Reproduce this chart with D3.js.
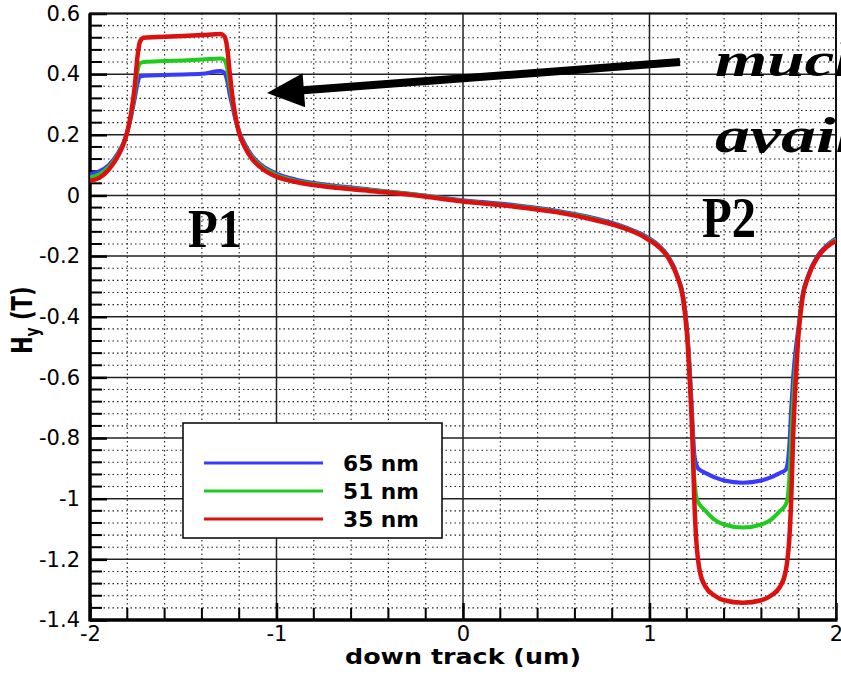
<!DOCTYPE html>
<html lang="en">
<head>
    <meta charset="UTF-8">
    <title>Hy down track</title>
    <script src="https://d3js.org/d3.v7.min.js"></script>
    <style>
        body { margin: 0; background: #fff; }
        svg { display: block; }
    </style>
</head>
<body>
<div id="chart"></div>
<script>
    // down-track positions (um), shared by all three series
    const xs = [-2.0, -1.95, -1.9, -1.85, -1.82, -1.8, -1.78, -1.76, -1.745, -1.73, -1.71, -1.6, -1.5, -1.4, -1.3,
        -1.28, -1.265, -1.25, -1.235, -1.22, -1.2, -1.17, -1.13, -1.08, -1.0, -0.9, -0.75, -0.5, -0.25, 0,
        0.25, 0.5, 0.7, 0.85, 0.95, 1.0, 1.05, 1.1, 1.15, 1.18, 1.2, 1.215, 1.23, 1.24, 1.25, 1.26, 1.27,
        1.3, 1.35, 1.4, 1.5, 1.6, 1.65, 1.7, 1.73, 1.74, 1.75, 1.76, 1.77, 1.785, 1.8, 1.82, 1.85, 1.9, 1.95, 2.0];

    const hy65 = [0.07, 0.08, 0.1, 0.14, 0.175, 0.21, 0.26, 0.32, 0.37, 0.393, 0.395, 0.397, 0.399, 0.401, 0.41,
        0.405, 0.38, 0.33, 0.29, 0.25, 0.21, 0.17, 0.13, 0.1, 0.072, 0.053, 0.037, 0.02, 0.003, -0.016,
        -0.03, -0.05, -0.074, -0.1, -0.125, -0.142, -0.165, -0.2, -0.265, -0.33, -0.43, -0.56, -0.74, -0.85, -0.885, -0.9, -0.905,
        -0.915, -0.93, -0.94, -0.947, -0.94, -0.93, -0.915, -0.905, -0.885, -0.82, -0.7, -0.6, -0.5, -0.43, -0.33, -0.265, -0.2, -0.165, -0.142];

    const hy51 = [0.06, 0.07, 0.093, 0.135, 0.172, 0.21, 0.265, 0.34, 0.41, 0.437, 0.44, 0.443, 0.445, 0.448, 0.452,
        0.447, 0.42, 0.36, 0.305, 0.255, 0.208, 0.165, 0.125, 0.095, 0.067, 0.049, 0.034, 0.018, 0.002, -0.018,
        -0.033, -0.053, -0.077, -0.103, -0.128, -0.145, -0.168, -0.203, -0.268, -0.335, -0.44, -0.58, -0.77, -0.93, -0.99, -1.01, -1.02,
        -1.04, -1.07, -1.085, -1.095, -1.085, -1.07, -1.04, -1.02, -1.0, -0.93, -0.8, -0.68, -0.55, -0.44, -0.335, -0.268, -0.203, -0.168, -0.145];

    const hy35 = [0.048, 0.058, 0.085, 0.13, 0.17, 0.21, 0.27, 0.36, 0.46, 0.51, 0.52, 0.523, 0.526, 0.529, 0.532,
        0.525, 0.49, 0.4, 0.32, 0.26, 0.205, 0.16, 0.12, 0.09, 0.062, 0.045, 0.03, 0.015, 0.0, -0.02,
        -0.035, -0.055, -0.08, -0.105, -0.13, -0.148, -0.17, -0.205, -0.27, -0.34, -0.45, -0.6, -0.8, -1.0, -1.13, -1.2, -1.24,
        -1.29, -1.32, -1.335, -1.343, -1.335, -1.32, -1.29, -1.24, -1.2, -1.13, -1.0, -0.8, -0.6, -0.45, -0.34, -0.27, -0.205, -0.17, -0.15];

    const seriesNames = ["65 nm", "51 nm", "35 nm"];
    const seriesColors = ["#3a3aff", "#1ecc1e", "#dd0f0f"];
    const xTicks = [-2, -1, 0, 1, 2];
    const yTicks = [0.6, 0.4, 0.2, 0, -0.2, -0.4, -0.6, -0.8, -1, -1.2, -1.4];

    const width = 841, height = 678;
    const margin = {top: 13.5, right: 5, bottom: 58, left: 90};

    const svg = d3.select("#chart").append("svg")
        .attr("width", width)
        .attr("height", height)
        .style("font-family", "'DejaVu Sans', sans-serif");

    svg.append("rect").attr("width", width).attr("height", height).attr("fill", "#fff");

    const x = d3.scaleLinear().domain([-2, 2]).range([margin.left, width - margin.right]);
    const y = d3.scaleLinear().domain([-1.4, 0.6]).range([height - margin.bottom, margin.top]);

    const x0 = x.range()[0], x1 = x.range()[1];
    const y0 = y.range()[1], y1 = y.range()[0];

    // minor grid (dotted)
    const xMinor = d3.range(-20, 21, 2).map(d => d / 10).filter(d => Math.abs(d - Math.round(d)) > 1e-6);
    const yMinor = d3.range(-35, 16).map(d => d * 0.04).filter(d => Math.abs(d / 0.2 - Math.round(d / 0.2)) > 1e-6);

    const grid = svg.append("g");
    grid.selectAll(".vminor").data(xMinor).join("line")
        .attr("x1", d => x(d)).attr("x2", d => x(d)).attr("y1", y0).attr("y2", y1)
        .attr("stroke", "#222").attr("stroke-width", 1.1).attr("stroke-dasharray", "1.5,3");
    grid.selectAll(".hminor").data(yMinor).join("line")
        .attr("x1", x0).attr("x2", x1).attr("y1", d => y(d)).attr("y2", d => y(d))
        .attr("stroke", "#222").attr("stroke-width", 1.1).attr("stroke-dasharray", "1.5,3");

    // major grid (solid)
    grid.selectAll(".vmajor").data(xTicks).join("line")
        .attr("x1", d => x(d)).attr("x2", d => x(d)).attr("y1", y0).attr("y2", y1)
        .attr("stroke", "#222").attr("stroke-width", 1.5);
    grid.selectAll(".hmajor").data(yTicks).join("line")
        .attr("x1", x0).attr("x2", x1).attr("y1", d => y(d)).attr("y2", d => y(d))
        .attr("stroke", "#222").attr("stroke-width", 1.5);

    // minor ticks, inward
    svg.append("g").selectAll("line").data(yMinor).join("line")
        .attr("x1", x0).attr("x2", x0 + 12).attr("y1", d => y(d)).attr("y2", d => y(d))
        .attr("stroke", "#000").attr("stroke-width", 2);
    svg.append("g").selectAll("line").data(xMinor).join("line")
        .attr("x1", d => x(d)).attr("x2", d => x(d)).attr("y1", y1).attr("y2", y1 - 12)
        .attr("stroke", "#000").attr("stroke-width", 2);

    const fmt = d => String(+d.toFixed(1));

    // axes with major ticks pointing inward
    const yAxis = svg.append("g")
        .attr("transform", `translate(${x0},0)`)
        .call(d3.axisLeft(y).tickValues(yTicks).tickSize(-17).tickPadding(10).tickFormat(fmt));
    const xAxis = svg.append("g")
        .attr("transform", `translate(0,${y1})`)
        .call(d3.axisBottom(x).tickValues(xTicks).tickSize(-17).tickPadding(6).tickFormat(fmt));

    [yAxis, xAxis].forEach(a => {
        a.select(".domain").remove();
        a.selectAll(".tick line").attr("stroke", "#000").attr("stroke-width", 2.5);
        a.selectAll("text").attr("fill", "#000")
            .style("font-family", "'DejaVu Sans', sans-serif").style("font-size", "21px");
    });

    // frame
    svg.append("rect")
        .attr("x", x0).attr("y", y0).attr("width", x1 - x0).attr("height", y1 - y0)
        .attr("fill", "none").attr("stroke", "#111").attr("stroke-width", 2);
    svg.append("line").attr("x1", x0).attr("x2", x0).attr("y1", y0).attr("y2", y1 + 1.5)
        .attr("stroke", "#000").attr("stroke-width", 3.5);
    svg.append("line").attr("x1", x0).attr("x2", x1 + 1.5).attr("y1", y1).attr("y2", y1)
        .attr("stroke", "#000").attr("stroke-width", 3.5);

    // curves
    svg.append("clipPath").attr("id", "plot-clip").append("rect")
        .attr("x", x0).attr("y", y0).attr("width", x1 - x0).attr("height", y1 - y0);

    const line = d3.line()
        .curve(d3.curveMonotoneX)
        .x(d => x(d[0]))
        .y(d => y(d[1]));

    const series = [hy65, hy51, hy35];
    series.forEach((vals, i) => {
        svg.append("path")
            .datum(xs.map((xv, j) => [xv, vals[j]]))
            .attr("clip-path", "url(#plot-clip)")
            .attr("fill", "none")
            .attr("stroke", seriesColors[i])
            .attr("stroke-width", i === 2 ? 4.5 : 4)
            .attr("stroke-linejoin", "round")
            .attr("d", line);
    });

    // legend
    const legend = svg.append("g").attr("transform", "translate(183,423)");
    legend.append("rect").attr("width", 259).attr("height", 115)
        .attr("fill", "#fff").attr("stroke", "#000").attr("stroke-width", 1.5);
    seriesNames.forEach((name, i) => {
        legend.append("line")
            .attr("x1", 21).attr("x2", 140).attr("y1", 40 + i * 28).attr("y2", 40 + i * 28)
            .attr("stroke", seriesColors[i]).attr("stroke-width", 3);
        legend.append("text")
            .attr("x", 160).attr("y", 40 + i * 28 + 8)
            .attr("textLength", 76).attr("lengthAdjust", "spacingAndGlyphs")
            .style("font-size", "22px").style("font-weight", "bold")
            .text(name);
    });

    // axis titles
    svg.append("text")
        .attr("x", 463).attr("y", 664)
        .attr("text-anchor", "middle")
        .attr("textLength", 236).attr("lengthAdjust", "spacingAndGlyphs")
        .style("font-size", "22px").style("font-weight", "bold")
        .text("down track (um)");

    const yTitle = svg.append("text")
        .attr("transform", "translate(32,354) scale(1.35,1) rotate(-90)")
        .style("font-size", "21px").style("font-weight", "bold");
    yTitle.append("tspan").text("H");
    yTitle.append("tspan").attr("dy", 5).style("font-size", "14px").text("y");
    yTitle.append("tspan").attr("dy", -5).text(" (T)");

    // annotations
    const serif = "'Liberation Serif', 'Times New Roman', serif";
    svg.append("text").attr("x", 188).attr("y", 247)
        .attr("textLength", 54).attr("lengthAdjust", "spacingAndGlyphs")
        .style("font-family", serif).style("font-weight", "bold").style("font-size", "54px")
        .text("P1");
    svg.append("text").attr("x", 702).attr("y", 237)
        .attr("textLength", 54).attr("lengthAdjust", "spacingAndGlyphs")
        .style("font-family", serif).style("font-weight", "bold").style("font-size", "56px")
        .text("P2");

    svg.append("text").attr("transform", "translate(715,76) scale(1.4,1)")
        .style("font-family", serif).style("font-weight", "bold").style("font-style", "italic")
        .style("font-size", "48px").text("much");
    svg.append("text").attr("transform", "translate(715,152) scale(1.4,1)")
        .style("font-family", serif).style("font-weight", "bold").style("font-style", "italic")
        .style("font-size", "50px").text("avail");

    // arrow pointing at P1
    const tail = [680, 62], tip = [267, 93];
    const dx = tip[0] - tail[0], dy = tip[1] - tail[1];
    const len = Math.hypot(dx, dy);
    const ux = dx / len, uy = dy / len;
    const headLen = 37, headHalf = 17;
    const base = [tip[0] - ux * headLen, tip[1] - uy * headLen];
    svg.append("line")
        .attr("x1", tail[0]).attr("y1", tail[1]).attr("x2", base[0] + ux * 4).attr("y2", base[1] + uy * 4)
        .attr("stroke", "#000").attr("stroke-width", 8);
    svg.append("path")
        .attr("d", `M${tip[0]},${tip[1]} L${base[0] - uy * headHalf},${base[1] + ux * headHalf} L${base[0] + uy * headHalf},${base[1] - ux * headHalf} Z`)
        .attr("fill", "#000");
</script>
</body>
</html>
